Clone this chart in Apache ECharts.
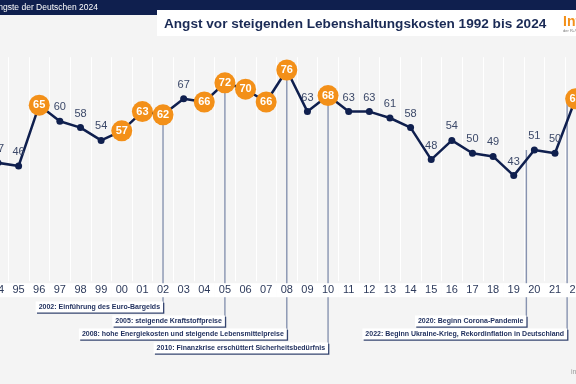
<!DOCTYPE html>
<html>
<head>
<meta charset="utf-8">
<script src="https://cdn.jsdelivr.net/npm/echarts@6/dist/echarts.min.js"></script>
<style>html,body{margin:0;padding:0;background:#f4f4f4;overflow:hidden}#c{width:576px;height:384px}</style>
</head>
<body>
<div id="c"></div>
<script>
const years = ['1992','1993','1994','1995','1996','1997','1998','1999','2000','2001','2002','2003','2004','2005','2006','2007','2008','2009','2010','2011','2012','2013','2014','2015','2016','2017','2018','2019','2020','2021','2022','2023','2024'];
const values = [52,50,47,46,65,60,58,54,57,63,62,67,66,72,70,66,76,63,68,63,63,61,58,48,54,50,49,43,51,50,67,65,57];
const topYears = ['1996','2000','2001','2002','2004','2005','2006','2007','2008','2010','2022','2023','2024'];
const noteYears = ['2002','2005','2008','2010','2020','2022'];
const noteTexts = [
  '2002: Einführung des Euro-Bargelds',
  '2005: steigende Kraftstoffpreise',
  '2008: hohe Energiekosten und steigende Lebensmittelpreise',
  '2010: Finanzkrise erschüttert Sicherheitsbedürfnis',
  '2020: Beginn Corona-Pandemie',
  '2022: Beginn Ukraine-Krieg, Rekordinflation in Deutschland'
];
const headerText = 'Die Ängste der Deutschen 2024';
const titleText = 'Angst vor steigenden Lebenshaltungskosten 1992 bis 2024';

// layout only
const noteRowY = [307, 321, 334, 348, 321, 334];
const noteDx = [0, 0, 0, 0, -8, -8.5];

const NAVY = '#0f1f4e';
const ORANGE = '#f39019';
const FONT = '"Liberation Sans", Arial, sans-serif';

const lineData = values.map((v, i) => {
  const top = topYears.indexOf(years[i]) >= 0;
  return top ? {
    value: v, symbolSize: 21,
    itemStyle: {color: ORANGE, borderWidth: 0},
    label: {position: 'inside', color: '#fff', fontWeight: 'bold', fontSize: 11}
  } : {
    value: v, symbolSize: 7,
    itemStyle: {color: NAVY},
    label: {position: 'top', distance: 5, color: '#3b4868', fontSize: 11}
  };
});

const noteData = noteYears.map(y => { const i = years.indexOf(y); return [i, values[i]]; });

const chart = echarts.init(document.getElementById('c'), null, {renderer: 'canvas'});
chart.setOption({
  backgroundColor: '#f4f4f4',
  animation: false,
  textStyle: {fontFamily: FONT},
  grid: {left: -53.6, right: -51.2, top: 57.2, bottom: 102.8, containLabel: false, outerBoundsMode: 'none'},
  xAxis: {
    type: 'category', data: years, boundaryGap: true, z: 3,
    axisLine: {show: false}, axisTick: {show: false},
    splitLine: {show: true, interval: 0, lineStyle: {color: '#ffffff', width: 1}},
    axisLabel: {
      interval: 0, margin: 2, fontSize: 11, color: '#2e3b5c', fontFamily: FONT,
      backgroundColor: '#ffffff', width: 21, align: 'center', lineHeight: 12, padding: [1, 0, 1, 0],
      formatter: v => v.slice(2)
    }
  },
  yAxis: {type: 'value', min: 10, max: 80, show: false, splitLine: {show: false}},
  graphic: [
    {type: 'rect', shape: {x: 0, y: 0, width: 576, height: 15}, style: {fill: NAVY}, z: 0},
    {type: 'rect', shape: {x: 157, y: 10, width: 419, height: 26}, style: {fill: '#ffffff'}, z: 1},
    {type: 'text', x: 98, y: 7.5, style: {text: headerText, fill: '#ffffff', font: '8.5px ' + FONT, align: 'right', verticalAlign: 'middle'}, z: 2},
    {type: 'text', x: 164, y: 24, style: {text: titleText, fill: '#1a2a55', font: 'bold 13.6px ' + FONT, align: 'left', verticalAlign: 'middle'}, z: 2},
    {type: 'text', x: 563, y: 22, style: {text: 'Infocenter', fill: ORANGE, font: 'bold 14px ' + FONT, align: 'left', verticalAlign: 'middle'}, z: 2},
    {type: 'text', x: 563, y: 31, style: {text: 'der R+V Versicherung', fill: '#777', font: '4px ' + FONT, align: 'left', verticalAlign: 'middle'}, z: 2},
    {type: 'text', x: 571, y: 372, style: {text: 'infocenter', fill: '#9a9a9a', font: '7px ' + FONT, align: 'left', verticalAlign: 'middle'}, z: 2}
  ],
  series: [
    {
      type: 'custom', z: 1, clip: false, silent: true,
      data: noteData,
      renderItem: (params, api) => {
        const i = params.dataIndex;
        const p = api.coord([api.value(0), api.value(1)]);
        const x = p[0] + noteDx[i];
        const yc = noteRowY[i];
        const bottom = yc + 6;
        return {
          type: 'group',
          children: [
            {type: 'line', shape: {x1: x, y1: p[1], x2: x, y2: bottom}, style: {stroke: '#8793b0', lineWidth: 1.4}},
            {type: 'text', x: x, y: yc, style: {
              text: noteTexts[i], fill: '#1d2d5c', font: 'bold 7px ' + FONT,
              align: 'right', verticalAlign: 'middle',
              backgroundColor: '#ffffff', padding: [2, 3, 2, 3],
              shadowColor: '#34446f', shadowOffsetX: 1.3, shadowOffsetY: 1.3, shadowBlur: 0
            }}
          ]
        };
      }
    },
    {
      type: 'line', z: 4, clip: false,
      data: lineData,
      symbol: 'circle',
      lineStyle: {color: NAVY, width: 2.5},
      label: {show: true, fontFamily: FONT},
      emphasis: {disabled: true}
    }
  ]
});
</script>
</body>
</html>
